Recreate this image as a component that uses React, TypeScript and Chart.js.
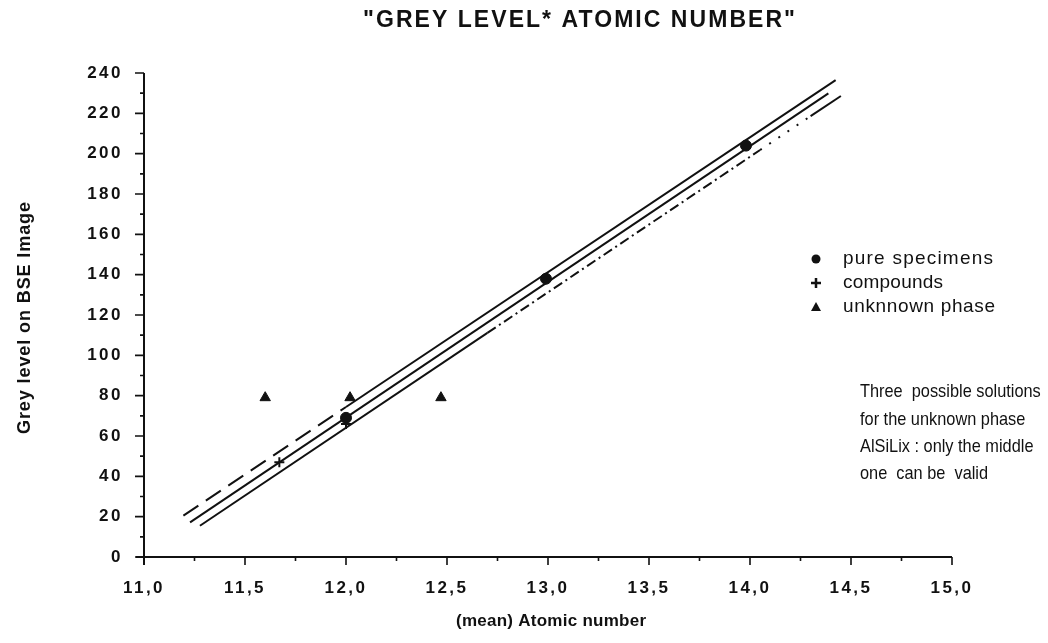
import React, { useEffect, useRef } from 'react';
import { Chart, registerables } from 'chart.js';

Chart.register(...registerables);

// ---- data ----
const pureX = [12.0, 12.99, 13.98];
const pureY = [69, 138, 204];
const compoundX = [11.67, 12.0];
const compoundY = [47, 66];
const unknownX = [11.6, 12.02, 12.47];
const unknownY = [79, 79, 79];

// three fitted lines (upper / middle / lower), split where the drawn style changes
const upperDashX = [11.195, 12.0];
const upperDashY = [20.5, 74.4];
const upperSolidX = [12.0, 14.424];
const upperSolidY = [74.4, 236.5];
const middleX = [11.228, 14.388];
const middleY = [17.2, 229.9];
const lowerSolidX = [11.277, 12.7];
const lowerSolidY = [15.5, 111.1];
const lowerDashDotX = [12.7, 14.05];
const lowerDashDotY = [111.1, 201.8];
const lowerDotX = [14.05, 14.3];
const lowerDotY = [201.8, 218.6];
const lowerEndX = [14.3, 14.45];
const lowerEndY = [218.6, 228.6];

const xTickLabels = ['11,0', '11,5', '12,0', '12,5', '13,0', '13,5', '14,0', '14,5', '15,0'];
const yTickLabels = ['0', '20', '40', '60', '80', '100', '120', '140', '160', '180', '200', '220', '240'];

const titleText = '"GREY LEVEL* ATOMIC NUMBER"';
const xTitle = '(mean) Atomic number';
const yTitle = 'Grey level on BSE Image';
const legendLabels = ['pure specimens', 'compounds', 'unknnown phase'];
const noteLines = ['Three  possible solutions', 'for the unknown phase', 'AlSiLix : only the middle', 'one  can be  valid'];

const FONT = '"Liberation Sans", Arial, Helvetica, sans-serif';
const INK = '#111111';

const pts = (xs: number[], ys: number[]) => xs.map((x, i) => ({ x, y: ys[i] }));

function fitText(
  ctx: CanvasRenderingContext2D,
  text: string,
  x: number,
  y: number,
  font: string,
  target: number,
  align: 'left' | 'center' | 'right' = 'left'
) {
  ctx.save();
  ctx.font = font;
  (ctx as any).letterSpacing = '0px';
  ctx.fillStyle = INK;
  ctx.textBaseline = 'middle';
  ctx.textAlign = 'left';
  const w = ctx.measureText(text).width;
  const left = align === 'center' ? x - target / 2 : align === 'right' ? x - target : x;
  if (target > w) {
    const ls = (target - w) / Math.max(1, text.length - 1);
    (ctx as any).letterSpacing = ls + 'px';
    ctx.fillText(text, left, y);
  } else {
    ctx.translate(left, y);
    ctx.scale(target / w, 1);
    ctx.fillText(text, 0, 0);
  }
  ctx.restore();
}

function scaledText(ctx: CanvasRenderingContext2D, text: string, x: number, y: number, font: string, sx: number) {
  ctx.save();
  ctx.font = font;
  (ctx as any).letterSpacing = '0px';
  ctx.fillStyle = INK;
  ctx.textBaseline = 'middle';
  ctx.textAlign = 'left';
  ctx.translate(x, y);
  ctx.scale(sx, 1);
  ctx.fillText(text, 0, 0);
  ctx.restore();
}

const decorPlugin = {
  id: 'decor',
  beforeDraw(chart: any) {
    (chart.ctx as any).letterSpacing = '2.5px';
  },
  beforeDatasetsDraw(chart: any) {
    (chart.ctx as any).letterSpacing = '0px';
  },
  afterDraw(chart: any) {
    const ctx: CanvasRenderingContext2D = chart.ctx;
    const xs = chart.scales.x;
    const ys = chart.scales.y;
    const x0 = xs.getPixelForValue(11);
    const x1 = xs.getPixelForValue(15);
    const y0 = ys.getPixelForValue(0);
    const y1 = ys.getPixelForValue(240);
    ctx.save();
    ctx.strokeStyle = INK;
    ctx.lineWidth = 2;
    ctx.lineCap = 'butt';
    // axes
    ctx.beginPath();
    ctx.moveTo(x0, y1);
    ctx.lineTo(x0, y0 + 8);
    ctx.moveTo(x0 - 8, y0);
    ctx.lineTo(x1, y0);
    ctx.stroke();
    // y ticks
    ctx.lineWidth = 1.6;
    ctx.beginPath();
    for (let v = 0; v <= 240; v += 10) {
      const p = ys.getPixelForValue(v);
      const len = v % 20 === 0 ? 9 : 4;
      ctx.moveTo(x0, p);
      ctx.lineTo(x0 - len, p);
    }
    // x ticks
    for (let v = 11; v <= 15.0001; v += 0.25) {
      const p = xs.getPixelForValue(v);
      const major = Math.abs(v * 2 - Math.round(v * 2)) < 1e-6;
      ctx.moveTo(p, y0);
      ctx.lineTo(p, y0 + (major ? 8 : 4));
    }
    ctx.stroke();
    ctx.restore();

    // title
    fitText(ctx, titleText, 579, 21, `bold 23px ${FONT}`, 432, 'center');
    // axis titles
    fitText(ctx, xTitle, 551, 621, `bold 17px ${FONT}`, 190, 'center');
    ctx.save();
    ctx.translate(25, 318);
    ctx.rotate(-Math.PI / 2);
    fitText(ctx, yTitle, 0, 0, `bold 18px ${FONT}`, 232, 'center');
    ctx.restore();

    // legend
    const legY = [259, 283, 307];
    const legW = [150, 100, 152];
    const mx = 816;
    ctx.save();
    ctx.fillStyle = INK;
    ctx.strokeStyle = INK;
    ctx.beginPath();
    ctx.arc(mx, legY[0], 4.5, 0, Math.PI * 2);
    ctx.fill();
    ctx.lineWidth = 2.5;
    ctx.beginPath();
    ctx.moveTo(mx - 5, legY[1]);
    ctx.lineTo(mx + 5, legY[1]);
    ctx.moveTo(mx, legY[1] - 5);
    ctx.lineTo(mx, legY[1] + 5);
    ctx.stroke();
    ctx.beginPath();
    ctx.moveTo(mx, legY[2] - 5);
    ctx.lineTo(mx + 5, legY[2] + 4);
    ctx.lineTo(mx - 5, legY[2] + 4);
    ctx.closePath();
    ctx.fill();
    ctx.restore();
    legendLabels.forEach((t, i) => fitText(ctx, t, 843, legY[i], `19px ${FONT}`, legW[i]));

    // note
    const noteY = [392, 420, 447, 474];
    noteLines.forEach((t, i) => scaledText(ctx, t, 860, noteY[i], `19px ${FONT}`, 0.86));
  },
};

export default function App() {
  const ref = useRef<HTMLCanvasElement | null>(null);
  useEffect(() => {
    if (!ref.current) return;
    const lineDs = (data: any[], dash: number[]) => ({
      type: 'scatter' as const,
      data,
      showLine: true,
      borderColor: INK,
      borderWidth: 2,
      borderDash: dash,
      pointRadius: 0,
      fill: false,
    });
    const chart = new Chart(ref.current, {
      type: 'scatter',
      data: {
        datasets: [
          {
            label: legendLabels[0],
            data: pts(pureX, pureY),
            pointStyle: 'circle',
            pointRadius: 5.5,
            backgroundColor: INK,
            borderColor: INK,
          },
          {
            label: legendLabels[1],
            data: pts(compoundX, compoundY),
            pointStyle: 'cross',
            pointRadius: 5,
            borderWidth: 2,
            backgroundColor: INK,
            borderColor: INK,
          },
          {
            label: legendLabels[2],
            data: pts(unknownX, unknownY),
            pointStyle: 'triangle',
            pointRadius: 6,
            backgroundColor: INK,
            borderColor: INK,
          },
          lineDs(pts(upperDashX, upperDashY), [18, 9]),
          lineDs(pts(upperSolidX, upperSolidY), []),
          lineDs(pts(middleX, middleY), []),
          lineDs(pts(lowerSolidX, lowerSolidY), []),
          lineDs(pts(lowerDashDotX, lowerDashDotY), [10, 4, 2, 4]),
          lineDs(pts(lowerDotX, lowerDotY), [2, 9]),
          lineDs(pts(lowerEndX, lowerEndY), []),
        ] as any,
      },
      options: {
        animation: false,
        responsive: false,
        maintainAspectRatio: false,
        layout: { padding: { left: 0, right: 96, top: 73, bottom: 0 } },
        plugins: {
          legend: { display: false },
          title: { display: false },
          tooltip: { enabled: false },
        },
        scales: {
          x: {
            type: 'linear',
            min: 11,
            max: 15,
            border: { display: false },
            grid: { display: false, drawTicks: false },
            ticks: {
              stepSize: 0.5,
              padding: 21,
              color: INK,
              font: { family: FONT, size: 17, weight: 'bold' },
              callback: (_v: any, i: number) => xTickLabels[i],
            },
            afterFit: (s: any) => {
              s.height = 86;
            },
          },
          y: {
            type: 'linear',
            min: 0,
            max: 240,
            border: { display: false },
            grid: { display: false, drawTicks: false },
            ticks: {
              stepSize: 20,
              padding: 21,
              color: INK,
              font: { family: FONT, size: 17, weight: 'bold' },
              callback: (_v: any, i: number) => yTickLabels[i],
            },
            afterFit: (s: any) => {
              s.width = 144;
            },
          },
        },
      } as any,
      plugins: [decorPlugin],
    });
    return () => chart.destroy();
  }, []);
  return (
    <div style={{ position: 'absolute', left: 0, top: 0, width: 1048, height: 643, background: '#fff' }}>
      <canvas ref={ref} width={1048} height={643} style={{ width: 1048, height: 643, display: 'block' }} />
    </div>
  );
}
